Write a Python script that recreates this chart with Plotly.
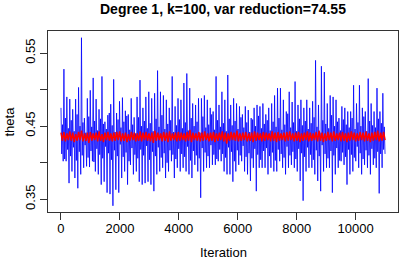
import numpy as np
import plotly.graph_objects as go

# --- data (theta trace): main peaks/troughs and secondary swings per ~100 iterations
blue_hi = [0.475, 0.528, 0.490, 0.487, 0.473, 0.487, 0.503, 0.571, 0.461, 0.488,
           0.499, 0.516, 0.487, 0.473, 0.518, 0.456, 0.465, 0.480, 0.514, 0.468,
           0.484, 0.489, 0.471, 0.466, 0.488, 0.462, 0.490, 0.513, 0.475, 0.490,
           0.497, 0.488, 0.495, 0.526, 0.497, 0.492, 0.486, 0.475, 0.518, 0.477,
           0.488, 0.486, 0.509, 0.522, 0.502, 0.481, 0.479, 0.488, 0.488, 0.492,
           0.486, 0.475, 0.470, 0.518, 0.479, 0.497, 0.486, 0.520, 0.479, 0.488,
           0.481, 0.477, 0.466, 0.477, 0.472, 0.461, 0.475, 0.479, 0.477, 0.481,
           0.466, 0.475, 0.481, 0.492, 0.502, 0.502, 0.486, 0.470, 0.497, 0.483,
           0.511, 0.479, 0.486, 0.475, 0.486, 0.475, 0.484, 0.540, 0.479, 0.532,
           0.524, 0.481, 0.492, 0.490, 0.486, 0.461, 0.477, 0.475, 0.470, 0.470,
           0.506, 0.481, 0.506, 0.475, 0.470, 0.515, 0.481, 0.470, 0.502, 0.470,
           0.495]
blue_lo = [0.402, 0.402, 0.372, 0.388, 0.379, 0.365, 0.384, 0.393, 0.395, 0.394,
           0.402, 0.388, 0.384, 0.370, 0.374, 0.359, 0.357, 0.341, 0.363, 0.359,
           0.379, 0.388, 0.370, 0.397, 0.384, 0.388, 0.374, 0.370, 0.372, 0.374,
           0.370, 0.361, 0.384, 0.388, 0.393, 0.379, 0.388, 0.402, 0.379, 0.393,
           0.388, 0.393, 0.388, 0.384, 0.379, 0.397, 0.388, 0.352, 0.388, 0.393,
           0.393, 0.397, 0.397, 0.402, 0.402, 0.388, 0.384, 0.384, 0.374, 0.388,
           0.397, 0.402, 0.388, 0.384, 0.375, 0.393, 0.361, 0.393, 0.393, 0.393,
           0.384, 0.393, 0.388, 0.388, 0.402, 0.393, 0.384, 0.393, 0.397, 0.393,
           0.388, 0.375, 0.348, 0.388, 0.393, 0.393, 0.384, 0.375, 0.361, 0.388,
           0.393, 0.393, 0.359, 0.384, 0.393, 0.402, 0.397, 0.370, 0.384, 0.388,
           0.402, 0.393, 0.384, 0.397, 0.393, 0.384, 0.397, 0.393, 0.358, 0.393,
           0.412]
blue_sec_lo = [0.412, 0.405, 0.418, 0.409, 0.421, 0.403, 0.415, 0.410, 0.424, 0.407,
               0.416, 0.401, 0.419, 0.411, 0.406, 0.422, 0.413, 0.404, 0.417, 0.409,
               0.425, 0.408, 0.414, 0.402, 0.420, 0.411, 0.406, 0.418, 0.410, 0.423,
               0.404, 0.415, 0.409, 0.421, 0.407, 0.413, 0.400, 0.417, 0.411, 0.405,
               0.419, 0.412, 0.408, 0.422, 0.403, 0.416, 0.410, 0.406, 0.420, 0.414,
               0.409, 0.424, 0.411, 0.405, 0.418, 0.412, 0.407, 0.421, 0.415, 0.402,
               0.417, 0.410, 0.423, 0.408, 0.413, 0.406, 0.419, 0.411, 0.404, 0.416,
               0.420, 0.409, 0.414, 0.403, 0.418, 0.412, 0.407, 0.422, 0.410, 0.415,
               0.405, 0.419, 0.413, 0.408, 0.421, 0.411, 0.404, 0.417, 0.409, 0.424,
               0.412, 0.406, 0.416, 0.410, 0.420, 0.403, 0.414, 0.408, 0.418, 0.411,
               0.407, 0.422, 0.413, 0.405, 0.417, 0.410, 0.419, 0.406, 0.415, 0.412,
               0.418]
blue_sec_hi = [0.452, 0.461, 0.447, 0.458, 0.443, 0.466, 0.450, 0.455, 0.441, 0.463,
               0.449, 0.457, 0.444, 0.460, 0.453, 0.446, 0.468, 0.451, 0.442, 0.459,
               0.448, 0.456, 0.464, 0.445, 0.452, 0.440, 0.462, 0.450, 0.457, 0.447,
               0.454, 0.443, 0.460, 0.449, 0.465, 0.446, 0.453, 0.458, 0.442, 0.451,
               0.459, 0.447, 0.455, 0.444, 0.461, 0.450, 0.456, 0.441, 0.463, 0.448,
               0.452, 0.466, 0.445, 0.458, 0.449, 0.454, 0.443, 0.460, 0.451, 0.457,
               0.446, 0.462, 0.448, 0.455, 0.442, 0.459, 0.450, 0.464, 0.447, 0.453,
               0.458, 0.444, 0.456, 0.449, 0.461, 0.445, 0.452, 0.467, 0.448, 0.455,
               0.443, 0.460, 0.451, 0.457, 0.446, 0.454, 0.462, 0.449, 0.441, 0.458,
               0.453, 0.447, 0.465, 0.450, 0.456, 0.444, 0.459, 0.452, 0.448, 0.461,
               0.446, 0.455, 0.450, 0.463, 0.443, 0.457, 0.451, 0.448, 0.460, 0.454,
               0.449]
red_hi = [0.441, 0.442, 0.440, 0.443, 0.441, 0.439, 0.442, 0.444, 0.440, 0.441,
          0.442, 0.440, 0.441, 0.443, 0.439, 0.441, 0.442, 0.440, 0.441, 0.442,
          0.443, 0.440, 0.441, 0.439, 0.442, 0.441, 0.440, 0.443, 0.441, 0.442,
          0.440, 0.441, 0.444, 0.441, 0.440, 0.442, 0.441, 0.443, 0.440, 0.441,
          0.442, 0.441, 0.440, 0.442, 0.445, 0.441, 0.440, 0.442, 0.441, 0.443,
          0.440, 0.441, 0.442, 0.440, 0.441, 0.443, 0.441, 0.440, 0.442, 0.441,
          0.444, 0.440, 0.441, 0.442, 0.440, 0.441, 0.443, 0.441, 0.440, 0.442,
          0.441, 0.440, 0.443, 0.441, 0.442, 0.440, 0.441, 0.442, 0.443, 0.440,
          0.441, 0.442, 0.440, 0.441, 0.443, 0.441, 0.440, 0.442, 0.444, 0.441,
          0.440, 0.442, 0.441, 0.443, 0.440, 0.441, 0.442, 0.440, 0.441, 0.443,
          0.441, 0.440, 0.442, 0.441, 0.443, 0.440, 0.441, 0.442, 0.444, 0.441,
          0.442]
red_lo = [0.430, 0.429, 0.431, 0.430, 0.428, 0.430, 0.431, 0.429, 0.430, 0.427,
          0.430, 0.431, 0.429, 0.430, 0.428, 0.431, 0.430, 0.429, 0.430, 0.431,
          0.429, 0.430, 0.428, 0.430, 0.431, 0.429, 0.430, 0.429, 0.431, 0.430,
          0.429, 0.427, 0.430, 0.431, 0.429, 0.430, 0.428, 0.430, 0.431, 0.429,
          0.430, 0.431, 0.429, 0.430, 0.428, 0.431, 0.430, 0.429, 0.430, 0.431,
          0.429, 0.430, 0.428, 0.430, 0.431, 0.429, 0.426, 0.430, 0.431, 0.430,
          0.429, 0.430, 0.431, 0.429, 0.430, 0.428, 0.430, 0.431, 0.429, 0.430,
          0.431, 0.429, 0.430, 0.428, 0.430, 0.431, 0.429, 0.430, 0.431, 0.429,
          0.430, 0.428, 0.430, 0.431, 0.429, 0.430, 0.431, 0.429, 0.430, 0.428,
          0.430, 0.431, 0.429, 0.430, 0.431, 0.429, 0.430, 0.428, 0.430, 0.431,
          0.429, 0.430, 0.431, 0.429, 0.430, 0.428, 0.430, 0.431, 0.429, 0.430,
          0.431]

x_ticks = [0, 2000, 4000, 6000, 8000, 10000]
x_tick_text = ["0", "2000", "4000", "6000", "8000", "10000"]
y_ticks = [0.35, 0.40, 0.45, 0.50, 0.55]
y_tick_text = ["0.35", "", "0.45", "", "0.55"]
title_text = "Degree 1, k=100, var reduction=74.55"

blue = [v for grp in zip(blue_hi, blue_sec_lo, blue_sec_hi, blue_lo) for v in grp]
red = [v for pair in zip(red_hi, red_lo) for v in pair]
iter_blue = np.linspace(1, 11000, len(blue))
iter_red = np.linspace(1, 11000, len(red))

FONT = "Liberation Sans, Arial, Helvetica, sans-serif"

fig = go.Figure()
fig.add_trace(go.Scatter(x=iter_blue, y=blue, mode="lines",
                         line=dict(color="#0000ff", width=0.8)))
fig.add_trace(go.Scatter(x=iter_red, y=red, mode="lines",
                         line=dict(color="#ff0000", width=1.5)))

axis_common = dict(showgrid=False, zeroline=False, showline=True, mirror=True,
                   linecolor="#333333", linewidth=1, ticks="outside", ticklen=7,
                   tickcolor="#333333", automargin=False,
                   tickfont=dict(family=FONT, size=13, color="black"))

fig.update_layout(
    width=399, height=259,
    margin=dict(l=48, r=1, t=31, b=47),
    paper_bgcolor="white", plot_bgcolor="white",
    showlegend=False,
    font=dict(family=FONT, color="black"),
    xaxis=dict(range=[-440, 11440], tickvals=x_ticks, ticktext=x_tick_text,
               ticklabelstandoff=-3, **axis_common),
    yaxis=dict(range=[0.3325, 0.5802], tickvals=y_ticks, ticktext=y_tick_text,
               tickangle=-90, **axis_common),
    annotations=[
        dict(text="<b>" + title_text + "</b>", xref="paper", yref="paper", x=0.5, y=1,
             yanchor="middle", yshift=22, showarrow=False,
             font=dict(family=FONT, size=14, color="black")),
        dict(text="Iteration", xref="paper", yref="paper", x=0.5, y=0,
             yanchor="middle", yshift=-40, showarrow=False,
             font=dict(family=FONT, size=13, color="black")),
        dict(text="theta", xref="paper", yref="paper", x=0, y=0.5, textangle=-90,
             xanchor="center", xshift=-39, showarrow=False,
             font=dict(family=FONT, size=13, color="black")),
    ],
)

fig.write_html("out.html", config={"displayModeBar": False},
               post_script="document.body.style.margin='0px';")
